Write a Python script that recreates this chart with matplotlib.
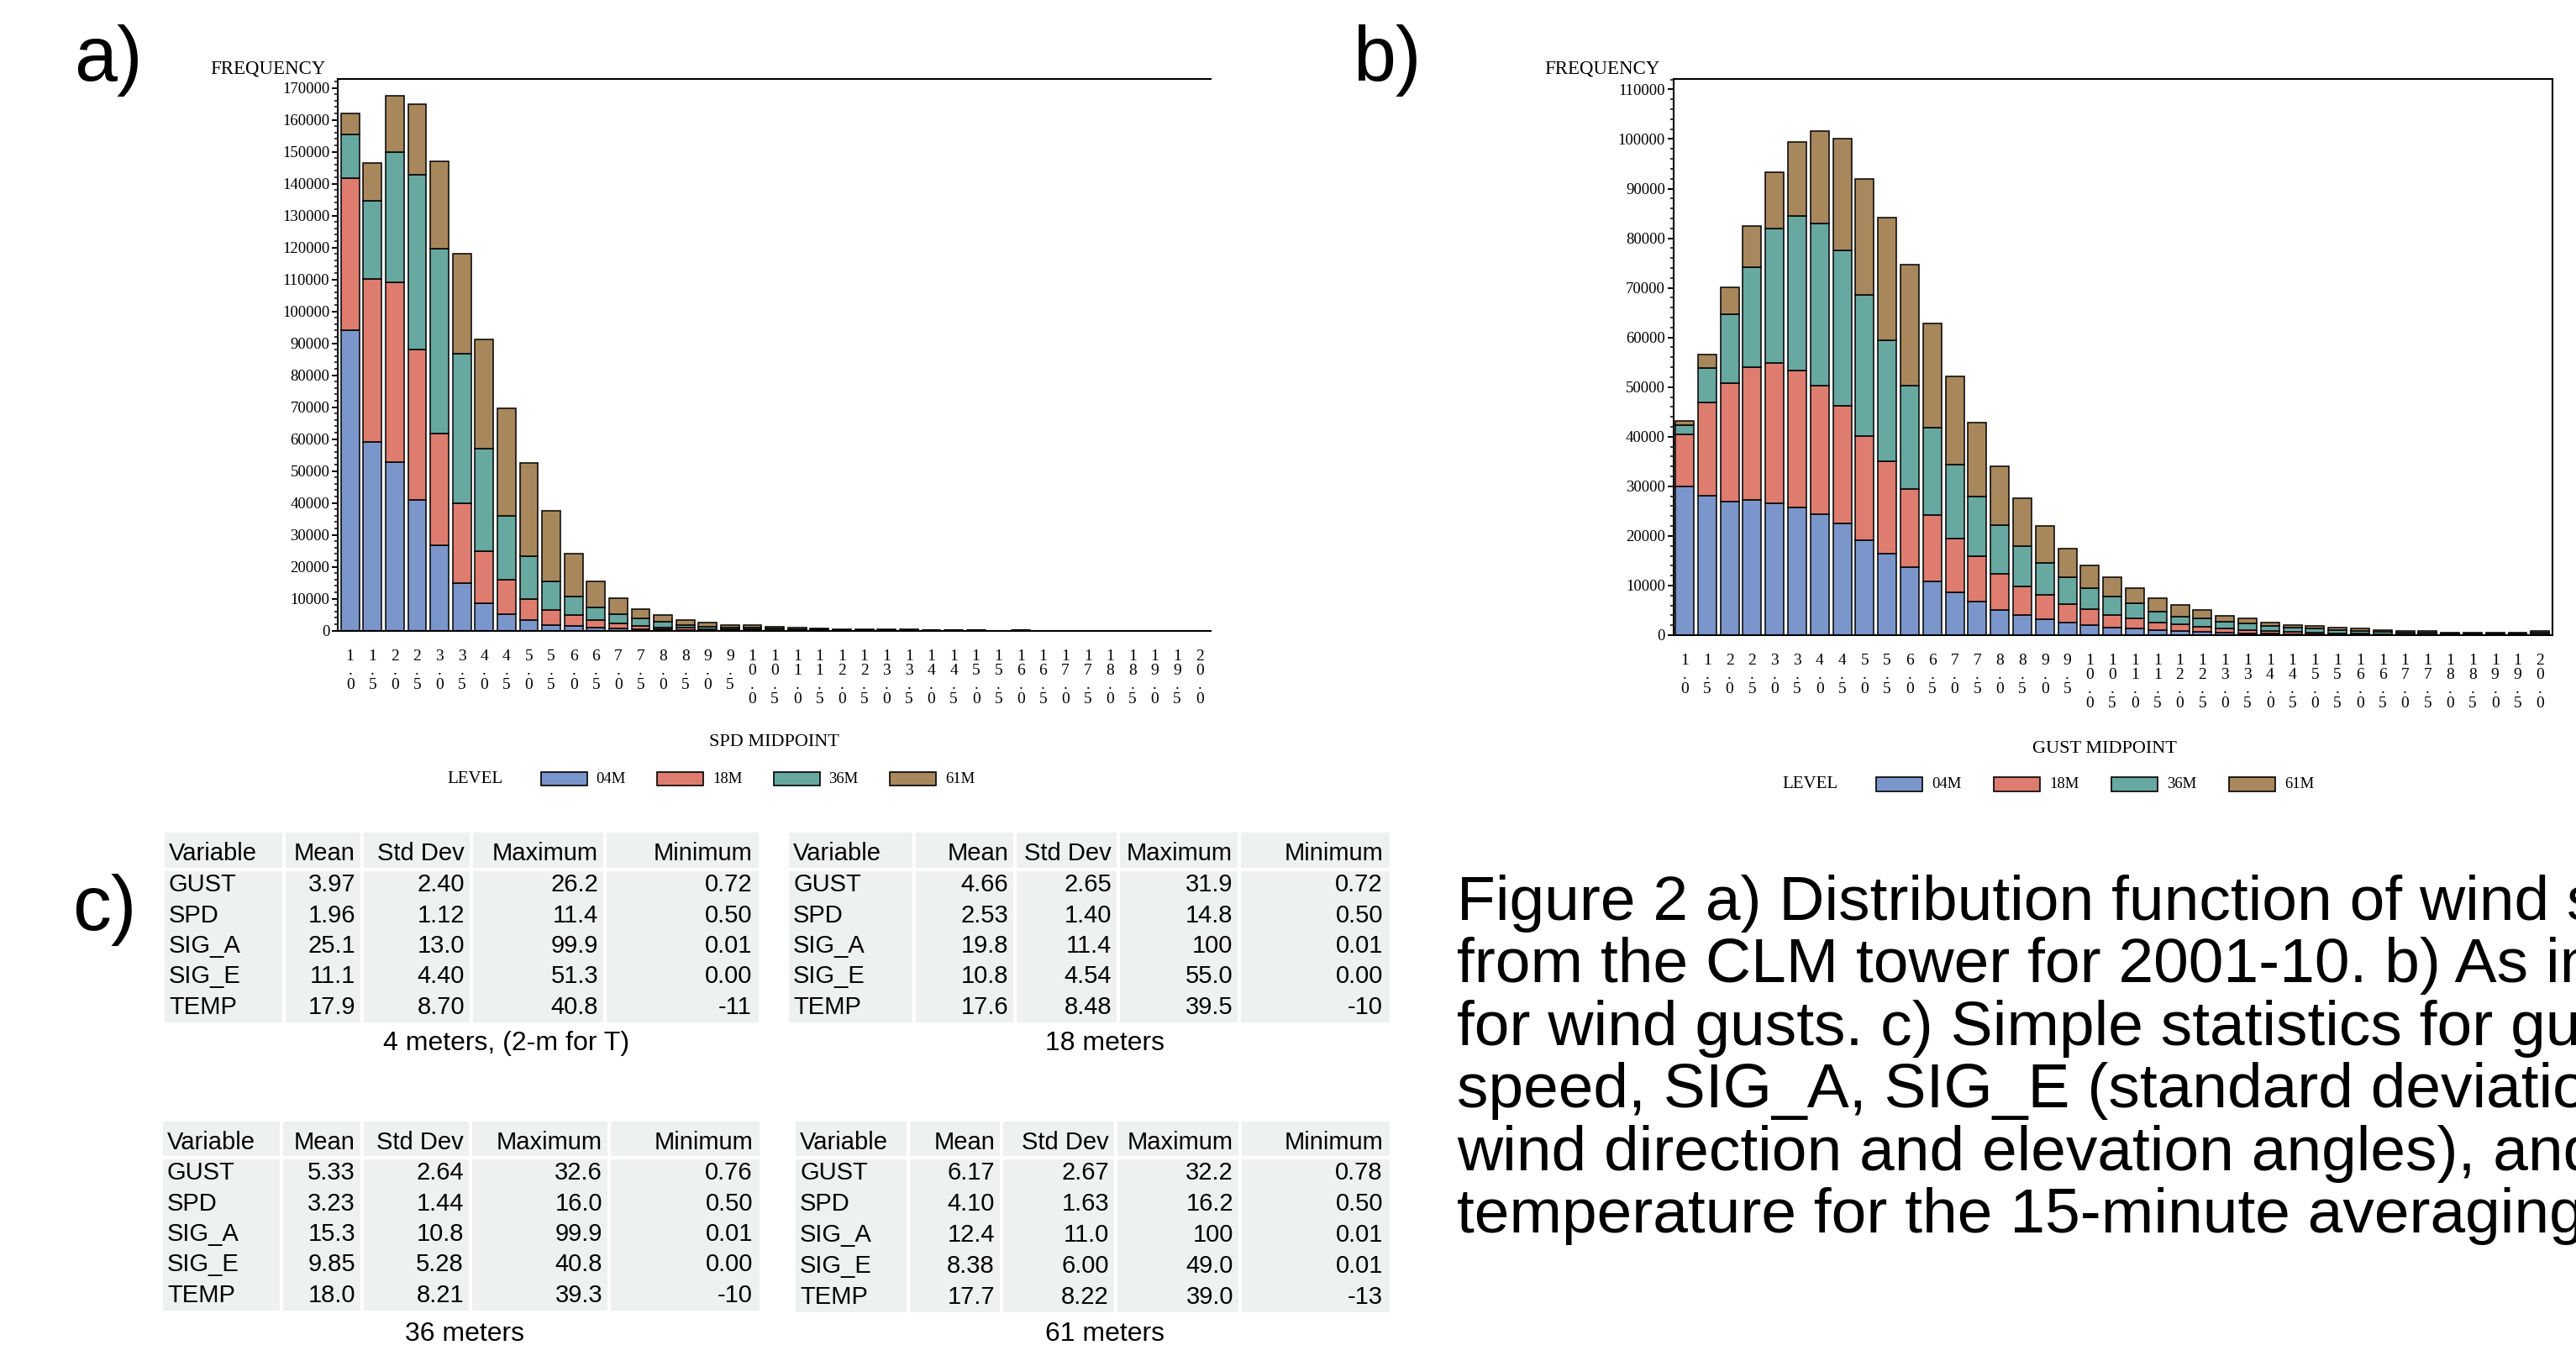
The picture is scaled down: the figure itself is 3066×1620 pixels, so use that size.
import numpy as np

import matplotlib
matplotlib.use('Agg')
import matplotlib.pyplot as plt
from matplotlib.patches import Rectangle
from matplotlib.ticker import MultipleLocator, FormatStrFormatter

# ---------------- data ----------------
midpoint_labels = ['1.0', '1.5', '2.0', '2.5', '3.0', '3.5', '4.0', '4.5', '5.0', '5.5',
                   '6.0', '6.5', '7.0', '7.5', '8.0', '8.5', '9.0', '9.5', '10.0', '10.5',
                   '11.0', '11.5', '12.0', '12.5', '13.0', '13.5', '14.0', '14.5', '15.0', '15.5',
                   '16.0', '16.5', '17.0', '17.5', '18.0', '18.5', '19.0', '19.5', '20.0']

levels = ['04M', '18M', '36M', '61M']
level_colors = ['#7B96CB', '#DE7D6F', '#67A8A1', '#A9875C']

# a) wind speed counts per level
spd_04m = [94100, 59200, 52900, 41000, 26600, 15000, 8500, 5100, 3200, 1800,
           1400, 900, 600, 400, 300, 200, 150, 100, 100, 50,
           50, 30, 20, 20, 10, 10, 10, 10, 10, 0,
           10, 0, 0, 0, 0, 0, 0, 0, 0]
spd_18m = [47600, 51000, 56100, 47000, 35100, 24900, 16500, 10700, 6800, 4600,
           3400, 2400, 1700, 1100, 700, 600, 350, 250, 200, 150,
           100, 70, 60, 50, 40, 40, 30, 30, 30, 0,
           30, 0, 0, 0, 0, 0, 0, 0, 0]
spd_36m = [13800, 24500, 41000, 54800, 58000, 46900, 32100, 20200, 13300, 9100,
           5800, 3900, 2900, 2200, 1700, 1000, 800, 550, 500, 400,
           300, 250, 120, 100, 100, 80, 80, 60, 60, 0,
           60, 0, 0, 0, 0, 0, 0, 0, 0]
spd_61m = [6500, 11800, 17500, 22200, 27300, 31200, 34200, 33600, 29300, 21900,
           13500, 8300, 5000, 3100, 2200, 1400, 1100, 800, 800, 600,
           450, 350, 200, 180, 150, 150, 120, 120, 100, 0,
           100, 0, 0, 0, 0, 0, 0, 0, 0]

# b) wind gust counts per level
gust_04m = [30000, 28100, 26900, 27300, 26600, 25700, 24400, 22600, 19100, 16400,
            13700, 10800, 8600, 6800, 5100, 4100, 3300, 2500, 2000, 1500,
            1300, 1000, 800, 600, 500, 400, 300, 200, 200, 100,
            100, 100, 50, 50, 30, 30, 30, 30, 50]
gust_18m = [10400, 18800, 23900, 26800, 28300, 27600, 25900, 23600, 21000, 18700,
            15800, 13400, 10900, 9100, 7300, 5800, 4800, 3800, 3200, 2600,
            2100, 1600, 1400, 1100, 800, 600, 500, 400, 300, 300,
            200, 100, 100, 100, 70, 70, 70, 70, 150]
gust_36m = [2000, 6900, 13900, 20100, 27000, 31200, 32600, 31400, 28400, 24400,
            20800, 17600, 14900, 12100, 9700, 8100, 6400, 5300, 4300, 3700,
            3000, 2100, 1600, 1700, 1400, 1400, 1100, 900, 800, 600,
            500, 400, 300, 300, 200, 200, 200, 200, 300]
gust_61m = [800, 2700, 5400, 8200, 11400, 14900, 18700, 22400, 23500, 24700,
            24300, 21100, 17800, 14900, 11900, 9600, 7500, 5900, 4500, 3800,
            3100, 2700, 2300, 1600, 1200, 1000, 700, 600, 600, 600,
            500, 400, 350, 350, 200, 200, 200, 200, 400]

# c) simple statistics
stat_header = ['Variable', 'Mean', 'Std Dev', 'Maximum', 'Minimum']
stat_vars = ['GUST', 'SPD', 'SIG_A', 'SIG_E', 'TEMP']

m04_mean = ['3.97', '1.96', '25.1', '11.1', '17.9']
m04_std = ['2.40', '1.12', '13.0', '4.40', '8.70']
m04_max = ['26.2', '11.4', '99.9', '51.3', '40.8']
m04_min = ['0.72', '0.50', '0.01', '0.00', '-11']

m18_mean = ['4.66', '2.53', '19.8', '10.8', '17.6']
m18_std = ['2.65', '1.40', '11.4', '4.54', '8.48']
m18_max = ['31.9', '14.8', '100', '55.0', '39.5']
m18_min = ['0.72', '0.50', '0.01', '0.00', '-10']

m36_mean = ['5.33', '3.23', '15.3', '9.85', '18.0']
m36_std = ['2.64', '1.44', '10.8', '5.28', '8.21']
m36_max = ['32.6', '16.0', '99.9', '40.8', '39.3']
m36_min = ['0.76', '0.50', '0.01', '0.00', '-10']

m61_mean = ['6.17', '4.10', '12.4', '8.38', '17.7']
m61_std = ['2.67', '1.63', '11.0', '6.00', '8.22']
m61_max = ['32.2', '16.2', '100', '49.0', '39.0']
m61_min = ['0.78', '0.50', '0.01', '0.01', '-13']

caption_lines = [
    'Figure 2 a) Distribution function of wind speed',
    'from the CLM tower for 2001-10. b) As in a)',
    'for wind gusts. c) Simple statistics for gust,',
    'speed, SIG_A, SIG_E (standard deviation of',
    'wind direction and elevation angles), and',
    'temperature for the 15-minute averaging period.',
]

# ---------------- layout helpers (pixel based) ----------------
W, H = 3066, 1620
DPI = 100
SERIF = 'Liberation Serif'
SANS = 'Liberation Sans'


def fx(px):
    return px / W


def fy(py):
    return 1 - py / H


def axes_px(fig, left, top, right, bottom):
    return fig.add_axes([fx(left), fy(bottom), (right - left) / W, (bottom - top) / H])


fig = plt.figure(figsize=(W / DPI, H / DPI), dpi=DPI)
fig.patch.set_facecolor('white')


def stacked_hist(ax, series, ymax, xlim, right_spine):
    x = np.arange(len(midpoint_labels))
    bottom = np.zeros(len(x))
    for counts, color in zip(series, level_colors):
        counts = np.array(counts, dtype=float)
        keep = counts > 0
        ax.bar(x[keep], counts[keep], width=0.82, bottom=bottom[keep], color=color,
               edgecolor='black', linewidth=1.1, zorder=2)
        bottom += counts
    ax.set_xlim(*xlim)
    ax.set_ylim(0, ymax)
    ax.set_xticks(x)
    ax.set_xticklabels(['\n'.join(s) for s in midpoint_labels], fontsize=14,
                       family=SERIF, linespacing=1.0)
    ax.tick_params(axis='x', length=0, pad=16)
    ax.yaxis.set_major_locator(MultipleLocator(10000))
    ax.yaxis.set_minor_locator(MultipleLocator(2000))
    ax.yaxis.set_major_formatter(FormatStrFormatter('%d'))
    ax.tick_params(axis='y', which='major', length=5, width=1.4, direction='out',
                   labelsize=13.5, pad=2)
    ax.tick_params(axis='y', which='minor', length=3, width=1.1, direction='out')
    for lab in ax.get_yticklabels():
        lab.set_family(SERIF)
    for sp in ax.spines.values():
        sp.set_linewidth(1.5)
    ax.spines['right'].set_visible(right_spine)


def level_legend(x_level, x_box0, step, y_mid, box_h):
    fig.text(fx(x_level), fy(y_mid), 'LEVEL', ha='left', va='center', fontsize=15, family=SERIF)
    for i, (lvl, col) in enumerate(zip(levels, level_colors)):
        x0 = x_box0 + i * step
        fig.add_artist(Rectangle((fx(x0), fy(y_mid + box_h / 2)), 55 / W, box_h / H,
                                 transform=fig.transFigure, facecolor=col,
                                 edgecolor='black', linewidth=1.2))
        fig.text(fx(x0 + 66), fy(y_mid), lvl, ha='left', va='center', fontsize=13.5, family=SERIF)


# ---------------- a) SPD ----------------
ax_a = axes_px(fig, 402, 94, 1441, 750.5)
stacked_hist(ax_a, [spd_04m, spd_18m, spd_36m, spd_61m], 172800, (-0.55, 38.5), False)
fig.text(fx(250), fy(82), 'FREQUENCY', ha='left', va='center', fontsize=16.5, family=SERIF)
fig.text(fx(921), fy(883), 'SPD MIDPOINT', ha='center', va='center', fontsize=16, family=SERIF)
level_legend(532, 643.5, 138.5, 927, 16)

# ---------------- b) GUST ----------------
ax_b = axes_px(fig, 1991.6, 94, 3037.5, 756)
stacked_hist(ax_b, [gust_04m, gust_18m, gust_36m, gust_61m], 112100, (-0.5, 38.53), True)
fig.text(fx(1838), fy(82), 'FREQUENCY', ha='left', va='center', fontsize=16.5, family=SERIF)
fig.text(fx(2505), fy(891), 'GUST MIDPOINT', ha='center', va='center', fontsize=16, family=SERIF)
level_legend(2121, 2233, 140, 933, 17)

# ---------------- panel letters ----------------
fig.text(fx(88), fy(72), 'a)', ha='left', va='center', fontsize=66, family=SANS)
fig.text(fx(1610), fy(72), 'b)', ha='left', va='center', fontsize=66, family=SANS)
fig.text(fx(86), fy(1083), 'c)', ha='left', va='center', fontsize=66, family=SANS)

# ---------------- c) tables ----------------
TABLE_BG = '#EDF1EF'


def stats_table(edges, top, head_bot, bottom, columns, caption, cap_x, cap_y):
    gap = 4
    for j in range(5):
        x0 = edges[j] + (gap / 2 if j > 0 else 0)
        x1 = edges[j + 1] - (gap / 2 if j < 4 else 0)
        fig.add_artist(Rectangle((fx(x0), fy(head_bot - gap / 2)), (x1 - x0) / W,
                                 (head_bot - gap / 2 - top) / H, transform=fig.transFigure,
                                 facecolor=TABLE_BG, edgecolor='none'))
        fig.add_artist(Rectangle((fx(x0), fy(bottom)), (x1 - x0) / W,
                                 (bottom - head_bot - gap / 2) / H, transform=fig.transFigure,
                                 facecolor=TABLE_BG, edgecolor='none'))
    row_h = (bottom - head_bot) / len(stat_vars)
    head_y = (top + head_bot) / 2 + 3
    for j, name in enumerate(stat_header):
        if j == 0:
            fig.text(fx(edges[0] + 5), fy(head_y), name, ha='left', va='center',
                     fontsize=21, family=SANS)
        else:
            fig.text(fx(edges[j + 1] - 8), fy(head_y), name, ha='right', va='center',
                     fontsize=21, family=SANS)
    for i, var in enumerate(stat_vars):
        yc = head_bot + row_h * (i + 0.5)
        fig.text(fx(edges[0] + 5), fy(yc), var, ha='left', va='center', fontsize=21, family=SANS)
        for j, col in enumerate(columns):
            fig.text(fx(edges[j + 2] - 8), fy(yc), col[i], ha='right', va='center',
                     fontsize=21, family=SANS)
    fig.text(fx(cap_x), fy(cap_y), caption, ha='center', va='center', fontsize=23, family=SANS)


stats_table([196, 338, 431, 561, 720, 903], 991, 1035, 1217,
            [m04_mean, m04_std, m04_max, m04_min], '4 meters, (2-m for T)', 603, 1242)
stats_table([939, 1088, 1208, 1331, 1475, 1654], 991, 1035, 1217,
            [m18_mean, m18_std, m18_max, m18_min], '18 meters', 1315, 1242)
stats_table([194, 335, 431, 560, 725, 904], 1335, 1378, 1560,
            [m36_mean, m36_std, m36_max, m36_min], '36 meters', 553, 1588)
stats_table([947, 1081, 1192, 1328, 1476, 1654], 1335, 1378, 1562,
            [m61_mean, m61_std, m61_max, m61_min], '61 meters', 1315, 1588)

# ---------------- caption (runs off the right edge as in the source) ----------------
for i, line in enumerate(caption_lines):
    fig.text(fx(1734), fy(1095 + i * 74.4), line, ha='left', va='baseline',
             fontsize=54, family=SANS)

fig.savefig('out.png', dpi=DPI)
plt.close(fig)
